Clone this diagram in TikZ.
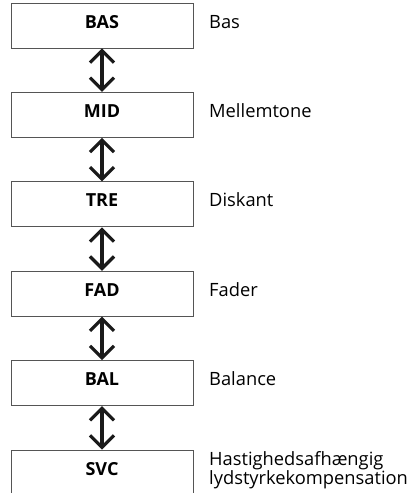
\documentclass[tikz,border=0pt]{standalone}
\usepackage{fontspec}
\setmainfont{Open Sans}
\usetikzlibrary{arrows.meta}
\definecolor{boxline}{HTML}{555555}
\definecolor{arrowcol}{HTML}{1A1A1A}
\begin{document}
\begin{tikzpicture}[x=1pt,y=1pt,
  menubox/.style={draw=boxline, line width=0.9pt, minimum width=182pt, minimum height=45pt,
    inner sep=0pt, font=\fontsize{18}{21}\selectfont\bfseries, text height=13pt, text depth=8pt},
  desc/.style={anchor=base west, inner sep=0pt, font=\fontsize{18.3}{21}\selectfont},
  link/.style={draw=arrowcol, line width=3.2pt,
    {Straight Barb[length=12pt,width=24pt]}-{Straight Barb[length=12pt,width=24pt]}}
  ]
\useasboundingbox (0,0) rectangle (412,-493);
\node[menubox] (bas) at (102,-25.5) {BAS};
\node[menubox] (mid) at (102,-114.9) {MID};
\node[menubox] (tre) at (102,-204.3) {TRE};
\node[menubox] (fad) at (102,-293.7) {FAD};
\node[menubox] (bal) at (102,-383.1) {BAL};
\node[menubox] (svc) at (102,-472.5) {SVC};
\node[desc] (lbas) at (209,-28) {Bas};
\node[desc] (lmid) at (209,-117.4) {Mellemtone};
\node[desc] (ltre) at (209,-206.8) {Diskant};
\node[desc] (lfad) at (209,-296.2) {Fader};
\node[desc] (lbal) at (209,-385.6) {Balance};
\node[anchor=west, inner sep=0pt, align=left, font=\fontsize{18.3}{16.5}\selectfont] (lsvc) at (209,-470) {Hastighedsafhængig\\lydstyrkekompensation};
\draw[link] (bas.south) -- (mid.north);
\draw[link] (mid.south) -- (tre.north);
\draw[link] (tre.south) -- (fad.north);
\draw[link] (fad.south) -- (bal.north);
\draw[link] (bal.south) -- (svc.north);
\end{tikzpicture}
\end{document}
